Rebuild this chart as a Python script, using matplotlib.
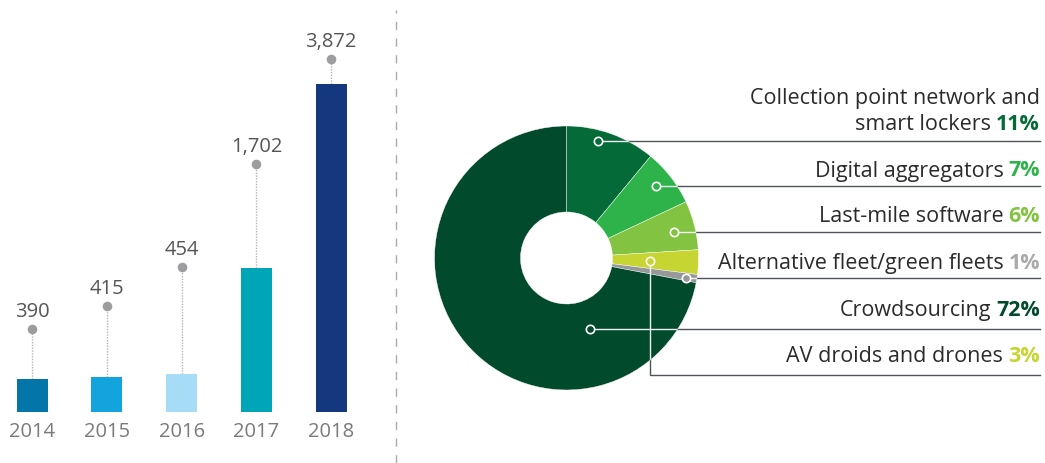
import matplotlib
matplotlib.use("Agg")
import matplotlib.pyplot as plt
from matplotlib.patches import Circle

plt.rcParams["font.family"] = ["Open Sans", "DejaVu Sans"]

# --- left: yearly counts ---
years = ["2014", "2015", "2016", "2017", "2018"]
counts = [390, 415, 454, 1702, 3872]
bar_colors = ["#0475A8", "#13A3DD", "#A7DCF6", "#00A5B8", "#15377D"]
dot_levels = [980, 1250, 1710, 2930, 4170]   # height of the grey value marker

# --- right: share by segment (clockwise from 12 o'clock) ---
segments = ["Collection point network and\nsmart lockers", "Digital aggregators",
            "Last-mile software", "AV droids and drones",
            "Alternative fleet/green fleets", "Crowdsourcing"]
shares = [11, 7, 6, 3, 1, 72]
seg_colors = ["#046A38", "#2EB34B", "#82C341", "#C6D531", "#97989A", "#024A2C"]
pct_colors = ["#046A38", "#2EB34B", "#82C341", "#C6D531", "#AAAAAA", "#024A2C"]

W, H = 1045, 463
fig = plt.figure(figsize=(W / 100, H / 100), dpi=100)

# ---------------- bar panel ----------------
ax1 = fig.add_axes([0, 51 / H, 397 / W, 412 / H])
x = list(range(len(years)))
ax1.bar(x, counts, width=0.415, color=bar_colors, zorder=2)
ax1.vlines(x, counts, dot_levels, colors="#B5B5B5", linestyles=(0, (1, 1)),
           linewidth=1.0, zorder=1)
ax1.scatter(x, dot_levels, s=48, color="#9D9D9F", zorder=3, linewidths=0)
for xi, c, d in zip(x, counts, dot_levels):
    ax1.annotate(f"{c:,}", (xi, d), xytext=(0, 8.5), textcoords="offset points",
                 ha="center", va="baseline", fontsize=14.5, color="#555555")
ax1.set_xlim(-0.43, 4.88)
ax1.set_ylim(0, 4864)
ax1.set_xticks(x, years)
ax1.tick_params(axis="x", length=0, pad=7.5, labelsize=14.5, labelcolor="#7A7A7A")
ax1.set_yticks([])
for s in ax1.spines.values():
    s.set_visible(False)

# dashed divider
fig.add_artist(plt.Line2D([395.5 / W, 395.5 / W], [0, 1 - 10 / H],
                          color="#ABABAB", linewidth=1.0, linestyle=(0, (6, 6))))

# ---------------- donut panel ----------------
ax2 = fig.add_axes([400 / W, 0, 645 / W, 1])
cx, cy, r_out, r_in = 566.5, H - 258, 132, 46
wedges, _ = ax2.pie(shares, colors=seg_colors, startangle=90, counterclock=False,
                    center=(cx, cy), radius=r_out,
                    wedgeprops=dict(width=r_out - r_in, edgecolor="white",
                                    linewidth=0.3))
for w in wedges:
    w.set_zorder(2)
ax2.set_xlim(400, W)
ax2.set_ylim(0, H)
ax2.axis("off")

# leader layout in pixels from top: (marker x, marker y, line y, label baselines)
line_end = 1040
leaders = {
    0: (598, 140.5, 140.5, [104, 130]),
    1: (656, 186, 186, [176.5]),
    2: (674, 232, 232, [222.5]),
    4: (686, 278, 278, [269]),
    5: (590, 329, 329, [316]),
    3: (650, 261, 375, [362.5]),
}

fig.canvas.draw()
for i, (mx, my, ly, bases) in leaders.items():
    xs = [mx, mx, line_end]
    ys = [H - my, H - ly, H - ly]
    ax2.plot(xs, ys, color="#4F5257", linewidth=1.0, zorder=1,
             solid_joinstyle="miter")
    inner, = ax2.plot(xs, ys, color="#F2F2F2", linewidth=1.0, zorder=3)
    clip = Circle((cx, cy), r_out, transform=ax2.transData)
    inner.set_clip_path(clip)
    ax2.plot(mx, H - my, marker="o", markersize=6, markerfacecolor=seg_colors[i],
             markeredgecolor="white", markeredgewidth=1.2, zorder=4)

    lines = segments[i].split("\n")
    pct = ax2.text(line_end, H - bases[-1], f"{shares[i]}%", ha="right",
                   va="baseline", fontsize=15.5, fontweight="bold",
                   color=pct_colors[i])
    bb = pct.get_window_extent(renderer=fig.canvas.get_renderer())
    ax2.text(bb.x0 - 5, H - bases[-1], lines[-1], ha="right", va="baseline",
             fontsize=15.5, color="#2B2B2B")
    if len(lines) > 1:
        ax2.text(line_end, H - bases[0], lines[0], ha="right", va="baseline",
                 fontsize=15.5, color="#2B2B2B")

fig.savefig("out.png", dpi=100, facecolor="white")
